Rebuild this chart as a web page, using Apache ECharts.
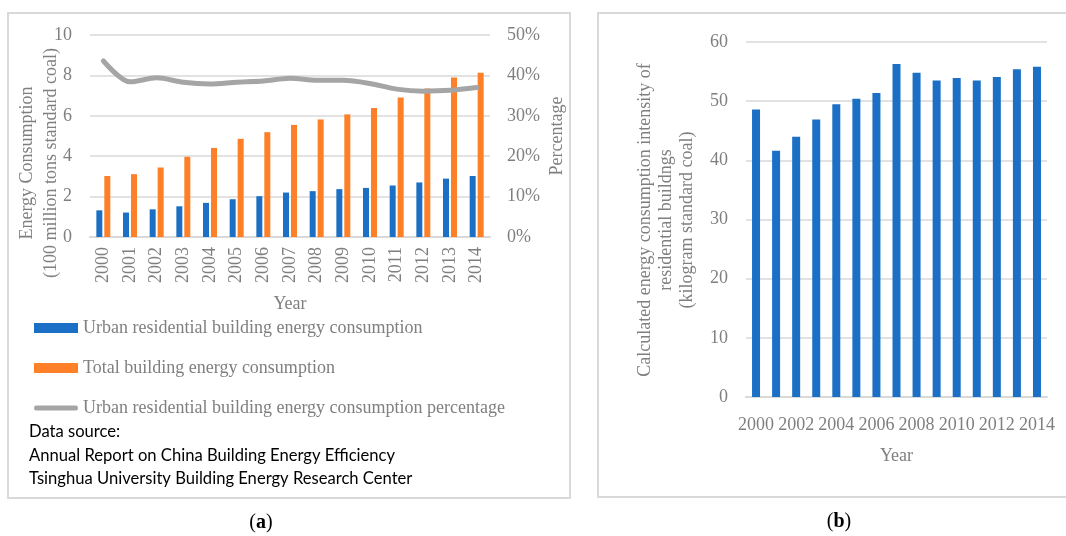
<!DOCTYPE html>
<html>
<head>
<meta charset="utf-8">
<script src="https://cdn.jsdelivr.net/npm/echarts@6/dist/echarts.min.js"></script>
<style>
  html, body { margin: 0; padding: 0; background: #fff; }
  #chart { width: 1066px; height: 536px; }
</style>
</head>
<body>
<div id="chart"></div>
<script>
// Years shared by both panels
const years = ['2000','2001','2002','2003','2004','2005','2006','2007','2008','2009','2010','2011','2012','2013','2014'];

// Panel (a): energy consumption, 100 million tons standard coal
const urbanResidential = [1.32, 1.21, 1.37, 1.52, 1.69, 1.87, 2.02, 2.20, 2.27, 2.37, 2.43, 2.55, 2.70, 2.89, 3.02];
const totalBuilding = [3.02, 3.11, 3.44, 3.97, 4.41, 4.86, 5.19, 5.55, 5.82, 6.07, 6.38, 6.91, 7.35, 7.90, 8.13];
// Urban residential share of total, percent
const urbanShare = [43.6, 38.4, 39.4, 38.3, 37.9, 38.3, 38.6, 39.3, 38.8, 38.8, 38.0, 36.6, 36.1, 36.3, 37.0];

// Panel (b): intensity, kilogram standard coal
const intensity = [48.6, 41.6, 44.0, 46.9, 49.5, 50.4, 51.4, 56.3, 54.8, 53.5, 53.9, 53.5, 54.1, 55.4, 55.8];

const SERIF = '"Liberation Serif", "DejaVu Serif", serif';
const SANS = 'Lato, "Liberation Sans", sans-serif';
const GREY_TEXT = '#7f7f7f';
const GRID_LINE = '#d9d9d9';
const BLUE = '#1b70c5';
const ORANGE = '#fd7f27';
const LINE_GREY = '#a5a5a5';
const FS = 18;

// thin rounded bar used as the legend mark of the line series
const LINE_ICON = 'path://M0,0L0.01,0Z M0,10L0.01,10Z M2.5,2.5L41.5,2.5A2.5,2.5 0 0 1 41.5,7.5L2.5,7.5A2.5,2.5 0 0 1 2.5,2.5Z';

const chart = echarts.init(document.getElementById('chart'), null, { renderer: 'canvas' });

const labelStyle = { color: GREY_TEXT, fontFamily: SERIF, fontSize: FS };

chart.setOption({
  animation: false,
  backgroundColor: '#fff',
  grid: [
    { left: 90, top: 35, width: 400, height: 202 },
    { left: 746, top: 42, width: 301, height: 355 }
  ],
  xAxis: [
    {
      type: 'category', gridIndex: 0, data: years,
      axisLine: { lineStyle: { color: GRID_LINE, width: 2 } },
      axisTick: { show: false },
      axisLabel: Object.assign({ rotate: 90, margin: 10 }, labelStyle),
      name: 'Year', nameLocation: 'middle', nameGap: 58,
      nameTextStyle: labelStyle
    },
    {
      type: 'category', gridIndex: 1, data: years,
      axisLine: { lineStyle: { color: GRID_LINE, width: 2 } },
      axisTick: { show: false },
      axisLabel: Object.assign({ interval: 1, margin: 19 }, labelStyle),
      name: 'Year', nameLocation: 'middle', nameGap: 50,
      nameTextStyle: labelStyle
    }
  ],
  yAxis: [
    {
      type: 'value', gridIndex: 0, min: 0, max: 10, interval: 2,
      axisLine: { show: false }, axisTick: { show: false },
      axisLabel: Object.assign({ margin: 18 }, labelStyle),
      splitLine: { lineStyle: { color: GRID_LINE, width: 1.5 } }
    },
    {
      type: 'value', gridIndex: 0, min: 0, max: 50, interval: 10, position: 'right',
      axisLine: { show: false }, axisTick: { show: false },
      axisLabel: Object.assign({ margin: 17, formatter: '{value}%' }, labelStyle),
      splitLine: { show: false },
      name: 'Percentage', nameLocation: 'middle', nameGap: 58, nameRotate: 90,
      nameTextStyle: labelStyle
    },
    {
      type: 'value', gridIndex: 1, min: 0, max: 60, interval: 10,
      axisLine: { show: false }, axisTick: { show: false },
      axisLabel: Object.assign({ margin: 18 }, labelStyle),
      splitLine: { lineStyle: { color: GRID_LINE, width: 1.5 } }
    }
  ],
  legend: {
    orient: 'vertical', left: 34, top: 318, padding: 0,
    itemWidth: 44, itemHeight: 10, itemGap: 20,
    textStyle: { color: GREY_TEXT, fontFamily: SERIF, fontSize: FS, lineHeight: 20 },
    data: [
      { name: 'Urban residential building energy consumption', icon: 'rect' },
      { name: 'Total building energy consumption', icon: 'rect' },
      { name: 'Urban residential building energy consumption percentage', icon: LINE_ICON,
        itemStyle: { color: LINE_GREY, borderWidth: 0 } }
    ]
  },
  series: [
    {
      name: 'Urban residential building energy consumption',
      type: 'bar', xAxisIndex: 0, yAxisIndex: 0,
      data: urbanResidential, barWidth: 6, barGap: '33%',
      itemStyle: { color: BLUE }
    },
    {
      name: 'Total building energy consumption',
      type: 'bar', xAxisIndex: 0, yAxisIndex: 0,
      data: totalBuilding, barWidth: 6,
      itemStyle: { color: ORANGE }
    },
    {
      name: 'Urban residential building energy consumption percentage',
      type: 'line', xAxisIndex: 0, yAxisIndex: 1,
      data: urbanShare, smooth: 0.3, symbol: 'none', z: 5,
      lineStyle: { color: LINE_GREY, width: 5, cap: 'round' },
      itemStyle: { color: LINE_GREY }
    },
    {
      name: 'Intensity',
      type: 'bar', xAxisIndex: 1, yAxisIndex: 2,
      data: intensity, barWidth: 8,
      itemStyle: { color: BLUE }
    }
  ],
  graphic: [
    // panel frames
    { type: 'rect', shape: { x: 8, y: 13, width: 562, height: 485 }, style: { fill: 'none', stroke: GRID_LINE, lineWidth: 2 }, silent: true },
    { type: 'rect', shape: { x: 598, y: 13, width: 480, height: 484 }, style: { fill: 'none', stroke: GRID_LINE, lineWidth: 2 }, silent: true },
    // left axis title, panel (a)
    {
      type: 'text', x: 39, y: 163, rotation: Math.PI / 2,
      style: {
        text: 'Energy Consumption\n(100 million tons standard coal)',
        align: 'center', verticalAlign: 'middle', lineHeight: 24,
        fill: GREY_TEXT, font: FS + 'px ' + SERIF
      }
    },
    // left axis title, panel (b)
    {
      type: 'text', x: 666, y: 220, rotation: Math.PI / 2,
      style: {
        text: 'Calculated energy consumption intensity of\nresidential buildngs\n(kilogram standard coal)',
        align: 'center', verticalAlign: 'middle', lineHeight: 21,
        fill: GREY_TEXT, font: FS + 'px ' + SERIF
      }
    },
    // data source note
    {
      type: 'text', x: 29, y: 420,
      style: {
        text: 'Data source:\nAnnual Report on China Building Energy Efficiency\nTsinghua University Building Energy Research Center',
        lineHeight: 23.5, fill: '#000', font: '16.6px ' + SANS, verticalAlign: 'top'
      }
    },
    // panel captions
    {
      type: 'text', x: 261, y: 523,
      style: {
        text: '({b|a})', align: 'center', verticalAlign: 'middle',
        fill: '#000', font: '20px ' + SERIF,
        rich: { b: { fontWeight: 'bold', fontSize: 20, fontFamily: SERIF, fill: '#000' } }
      }
    },
    {
      type: 'text', x: 839, y: 522,
      style: {
        text: '({b|b})', align: 'center', verticalAlign: 'middle',
        fill: '#000', font: '20px ' + SERIF,
        rich: { b: { fontWeight: 'bold', fontSize: 20, fontFamily: SERIF, fill: '#000' } }
      }
    }
  ]
});
</script>
</body>
</html>
